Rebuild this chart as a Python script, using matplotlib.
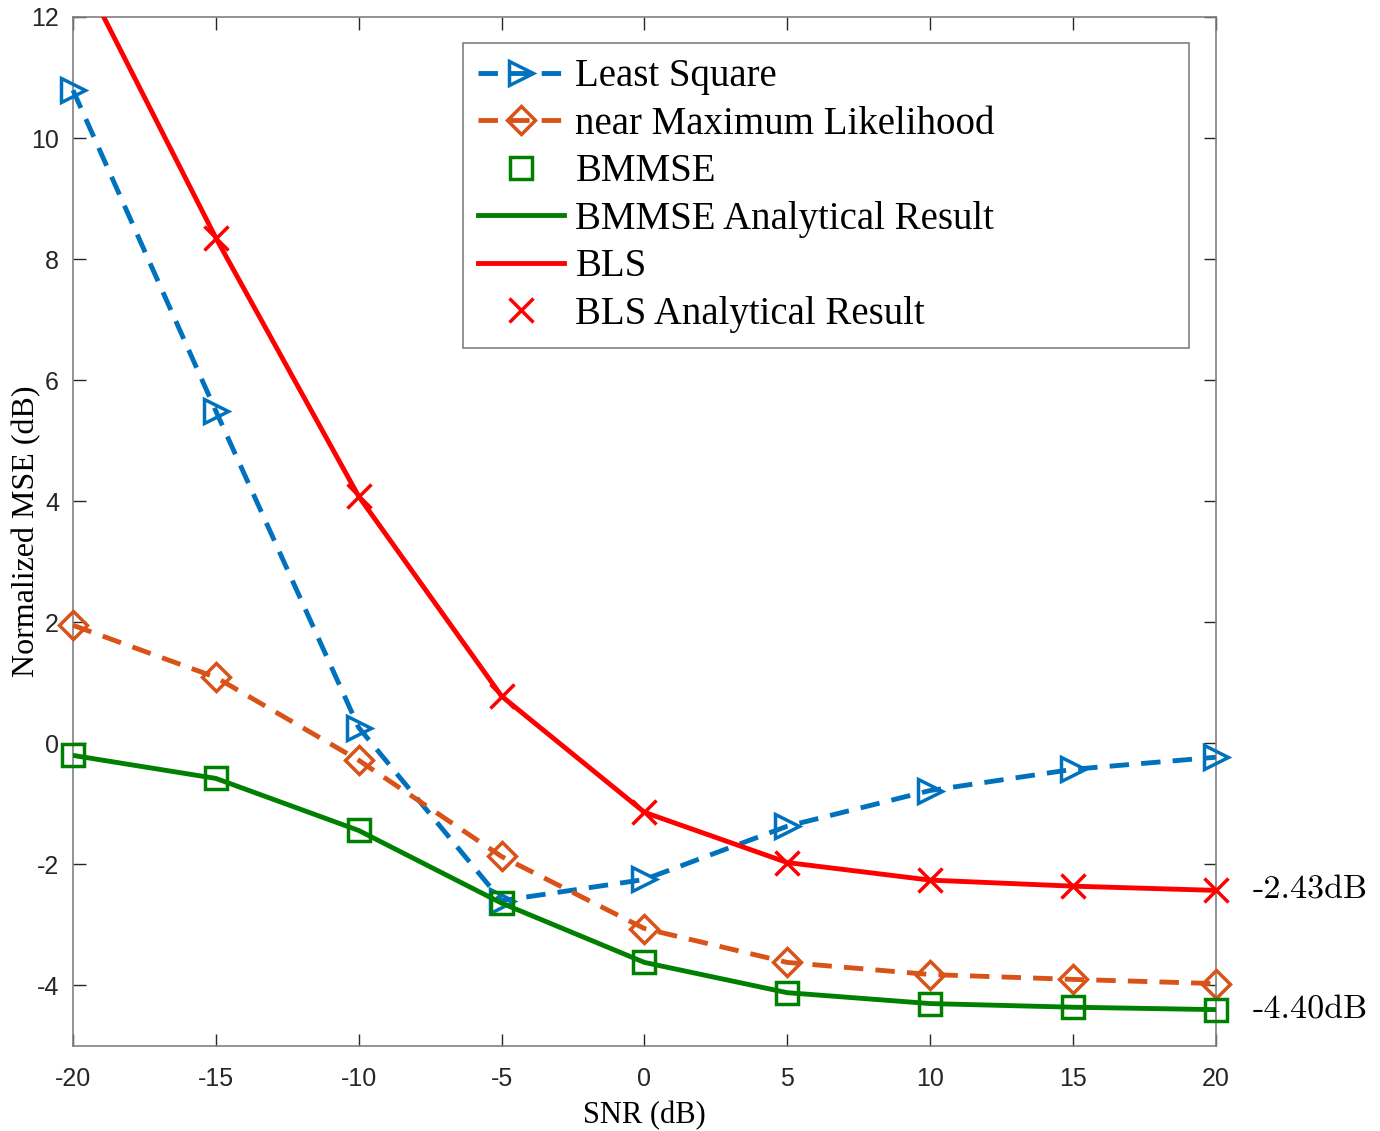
import numpy as np
import matplotlib
matplotlib.use("Agg")
import matplotlib.pyplot as plt

snr = [-20, -15, -10, -5, 0, 5, 10, 15, 20]
least_square = [10.79, 5.49, 0.26, -2.60, -2.25, -1.37, -0.78, -0.43, -0.23]
near_ml = [1.95, 1.09, -0.28, -1.87, -3.06, -3.62, -3.82, -3.90, -3.97]
bmmse = [-0.20, -0.58, -1.44, -2.64, -3.62, -4.12, -4.30, -4.36, -4.40]
bls = [13.0, 8.35, 4.08, 0.78, -1.14, -1.97, -2.26, -2.36, -2.43]
yticks = [-4, -2, 0, 2, 4, 6, 8, 10, 12]

blue = (0, 0.447, 0.741)
orange = (0.85, 0.325, 0.098)
green = (0, 0.5, 0)
red = (1, 0, 0)

serif = 'Liberation Serif'
sans = 'Liberation Sans'

fig = plt.figure(figsize=(13.8, 11.31), dpi=100)
ax = fig.add_axes([0.0529, 0.0752, 0.8281, 0.9098])

dash = (0, (4, 2.5))
ax.plot(snr, least_square, color=blue, lw=3.5, ls=dash, marker='>',
        ms=17, mfc='none', mew=2.5, label='Least Square', clip_on=False, zorder=3)
ax.plot(snr, near_ml, color=orange, lw=3.5, ls=dash, marker='D',
        ms=14, mfc='none', mew=2.5, label='near Maximum Likelihood', clip_on=False, zorder=3)
ax.plot(snr, bmmse, color=green, ls='none', marker='s', ms=16, mfc='none',
        mew=2.5, label='BMMSE', clip_on=False, zorder=4)
ax.plot(snr, bmmse, color=green, lw=3.5, label='BMMSE Analytical Result', zorder=3)
ax.plot(snr, bls, color=red, lw=3.5, label='BLS', zorder=3)
ax.plot(snr[1:], bls[1:], color=red, ls='none', marker='x', ms=17, mew=2.5,
        label='BLS Analytical Result', clip_on=False, zorder=4)

ax.set_xlim(-20, 20)
ax.set_ylim(-5, 12)
ax.set_xticks(snr)
ax.set_yticks(yticks)
ax.set_xticklabels([str(v) for v in snr], fontfamily=sans, fontsize=18)
ax.set_yticklabels([str(v) for v in yticks], fontfamily=sans, fontsize=18)
ax.tick_params(direction='in', length=9, width=1, colors=(0.15, 0.15, 0.15),
               top=True, right=True)
ax.tick_params(axis='x', pad=15)
ax.tick_params(axis='y', pad=10)
for sp in ax.spines.values():
    sp.set_color((0.5, 0.5, 0.5))
    sp.set_linewidth(1.2)

ax.set_xlabel('SNR (dB)', fontfamily=serif, fontsize=22, labelpad=7)
ax.set_ylabel('Normalized MSE (dB)', fontfamily=serif, fontsize=23)
ax.yaxis.set_label_coords(-0.028, 0.5)

ax.text(21.3, bls[-1], '-2.43dB', fontfamily='cmr10', fontsize=24.5, va='center', ha='left')
ax.text(21.3, bmmse[-1], '-4.40dB', fontfamily='cmr10', fontsize=24.5, va='center', ha='left')

leg = ax.legend(loc='upper left', bbox_to_anchor=(0.341, 0.686, 0.636, 0.289), mode='expand',
                prop={'family': serif, 'size': 28}, frameon=True, fancybox=False,
                edgecolor=(0.5, 0.5, 0.5), handlelength=2.2, handletextpad=0.3,
                labelspacing=0.27, borderpad=0.4, borderaxespad=0)
leg.get_frame().set_linewidth(1.2)
leg.get_frame().set_alpha(1)

fig.savefig('out.png', dpi=100)
